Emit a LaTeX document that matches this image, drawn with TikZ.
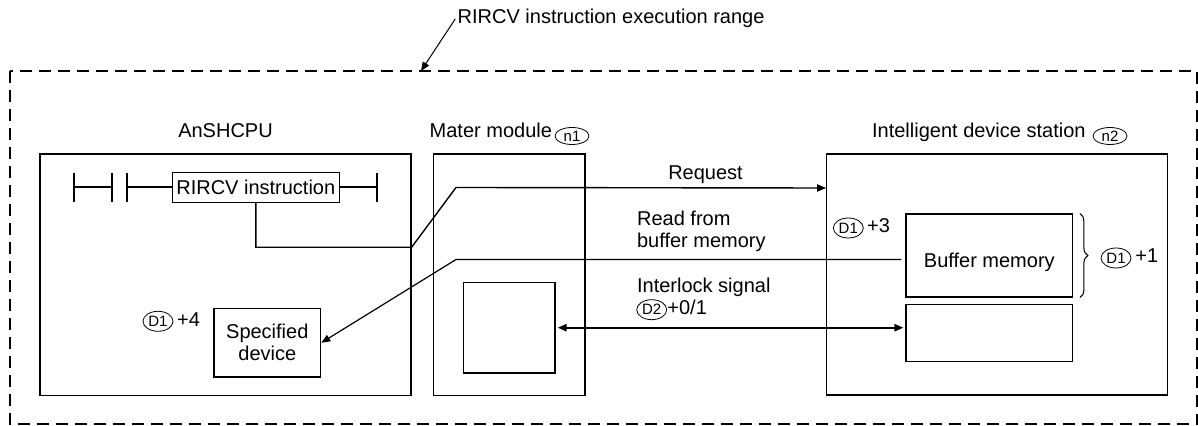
\documentclass[tikz,border=0pt]{standalone}
\usepackage{fontspec}
\setmainfont{Liberation Sans}
\usetikzlibrary{shapes.geometric,arrows.meta,decorations.pathreplacing}

\tikzset{
  box/.style={draw, line width=0.6pt},
  tag/.style={ellipse, draw, line width=0.4pt, minimum width=15pt, minimum height=10pt, font=\fontsize{7.5}{8}\selectfont},
  ntag/.style={tag, minimum width=17pt, minimum height=8.5pt},
  rung/.style={line width=1pt},
  link/.style={line width=0.7pt},
  tip/.style={-{Triangle[length=4.5pt,width=3.6pt]}},
  rangeline/.style={line width=1pt, dash pattern=on 6pt off 3.5pt},
}

\begin{document}
\begin{tikzpicture}[x=0.5pt, y=-0.5pt, inner sep=0pt, font=\fontsize{10}{11}\selectfont]
\useasboundingbox (0,0) rectangle (1198,426);

% execution range
\draw[rangeline] (10,71) rectangle (1197,424.5);
\coordinate (rangetip) at (421,71);
\node[anchor=base west] (title) at (457.3,24) {RIRCV instruction execution range};
\draw[line width=0.5pt, tip] ([xshift=-1pt]title.west) -- (rangetip);

% AnSHCPU
\node[box, minimum width=185.5pt, minimum height=120.75pt] (cpu) at (225.5,274.75) {};
\node[anchor=base] (cpulbl) at (225.5,138) {AnSHCPU};
\node[box, minimum width=83.5pt, minimum height=14.8pt] (instr) at (255.8,187.5) {RIRCV instruction};
\foreach \x in {74,111.7,126.7,377.3}
  \draw[rung] (\x,172.7) -- (\x,201.7);
\draw[rung] (74,187.5) -- (111.7,187.5);
\draw[rung] (126.7,187.5) -- (instr.west);
\draw[rung] (instr.east) -- (377.3,187.5);
\node[box, minimum width=53.35pt, minimum height=34.15pt, align=center] (specified) at (267.3,342.8) {Specified\\device};
\node[tag] (d1a) at (158,321.3) {D1};
\node[anchor=base west] (d1aoff) at (176.7,326.3) {+4};

% master module
\node[box, minimum width=75.85pt, minimum height=120.75pt] (master) at (509.2,274.75) {};
\node[anchor=base west] (masterlbl) at (429.3,138) {Mater module};
\node[ntag] (n1) at (572,136) {n1};
\node[box, minimum width=45.85pt, minimum height=45.35pt] (inner) at (509.2,327.7) {};

% intelligent device station
\node[box, minimum width=170.3pt, minimum height=120.5pt] (station) at (997,274.5) {};
\node[anchor=base west] (stationlbl) at (871.7,138) {Intelligent device station};
\node[ntag] (n2) at (1110,136) {n2};
\node[box, minimum width=83.35pt, minimum height=41.5pt] (buffer) at (989.3,255.5) {};
\node[anchor=base] (buftext) at (989.3,268) {Buffer memory};
\node[box, minimum width=83.35pt, minimum height=28.3pt] (lower) at (989.3,333) {};
\node[tag] (d1b) at (848.3,228) {D1};
\node[anchor=base west] (d1boff) at (866.7,233) {+3};
\draw[line width=0.5pt, decorate, decoration={brace, amplitude=4pt}]
  ([xshift=3.3pt]buffer.north east) -- ([xshift=3.3pt]buffer.south east);
\node[tag] (d1c) at (1116,258) {D1};
\node[anchor=base west] (d1coff) at (1135,263) {+1};

% signals
\draw[link, tip] (instr.south) |- (cpu.east |- 0,247.3) -- (456,187.5) -- (station.west |- 0,188);
\node[anchor=base] (reqlbl) at (705.5,180) {Request};
\draw[link, line width=0.6pt, tip, shorten <=2pt] ([yshift=-2pt]buffer.west) -- (456,259.5) -- (specified.east);
\node[anchor=base west, align=left] (readlbl) at (636.7,248) {Read from\\buffer memory};
\draw[line width=1pt, {Triangle[length=4.5pt,width=3.6pt]}-{Triangle[length=4.5pt,width=3.6pt]}, shorten <=1pt, shorten >=1pt]
  (inner.east) -- (inner.east -| lower.west);
\node[anchor=base west] (locklbl) at (636.7,293) {Interlock signal};
\node[tag] (d2) at (651.7,309.7) {D2};
\node[anchor=base west] (d2off) at (667,315) {+0/1};
\end{tikzpicture}
\end{document}
